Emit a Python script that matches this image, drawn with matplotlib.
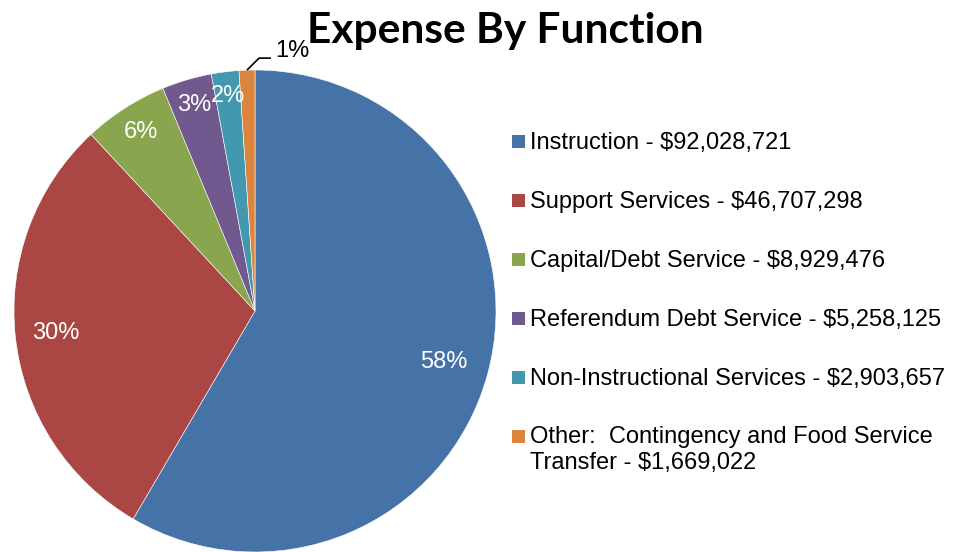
import matplotlib
matplotlib.use("Agg")
import matplotlib.pyplot as plt
import numpy as np
from matplotlib.patches import Rectangle

# Expense categories and amounts (USD)
categories = [
    "Instruction",
    "Support Services",
    "Capital/Debt Service",
    "Referendum Debt Service",
    "Non-Instructional Services",
    "Other:  Contingency and Food Service\nTransfer",
]
amounts = [92028721, 46707298, 8929476, 5258125, 2903657, 1669022]
colors = ["#4572A7", "#AA4643", "#89A54E", "#71588F", "#4198AF", "#DB843D"]

W, H = 954, 552
fig = plt.figure(figsize=(W / 100, H / 100), dpi=100)
ax = fig.add_axes([0, 0, 1, 1])

cx, cy, R = 255, H - 311, 241
wedges, _ = ax.pie(amounts, colors=colors, startangle=90, counterclock=False,
                   center=(cx, cy), radius=R,
                   wedgeprops=dict(edgecolor="white", linewidth=0.4))
ax.set_xlim(0, W)
ax.set_ylim(0, H)
ax.set_aspect("equal")
ax.axis("off")

plt.rcParams["font.family"] = ["Liberation Sans", "DejaVu Sans"]

total = sum(amounts)
pcts = [a / total * 100 for a in amounts]
label_dist = [0.81, 0.83, 0.88, 0.89, 0.90]
for i, w in enumerate(wedges):
    mid = np.deg2rad((w.theta1 + w.theta2) / 2)
    if i < len(label_dist):
        d = label_dist[i] * R
        ax.text(cx + d * np.cos(mid), cy + d * np.sin(mid), f"{pcts[i]:.0f}%",
                color="white", fontsize=17, ha="center", va="center",
                family="Liberation Sans")
    else:
        # small slice: label outside with a leader line
        ex, ey = cx + R * np.cos(mid), cy + R * np.sin(mid)
        ax.plot([ex, ex + 12, ex + 24], [ey, ey + 12, ey + 12],
                color="black", lw=1.2, solid_capstyle="butt")
        ax.text(ex + 28, ey + 19, f"{pcts[i]:.0f}%", color="black",
                fontsize=17, ha="left", va="center", family="Liberation Sans")

# Title
ax.text(505, H - 31, "Expense By Function", fontsize=30.5, fontweight="bold",
        family="Lato", ha="center", va="center")

# Legend
ly0, lstep = H - 141, 59
for i, (name, amt, c) in enumerate(zip(categories, amounts, colors)):
    y = ly0 - i * lstep
    ax.add_patch(Rectangle((512, y - 6.5), 13, 13, facecolor=c, edgecolor="none"))
    lines = name.split("\n")
    lines[-1] = f"{lines[-1]} - ${amt:,}"
    for j, ln in enumerate(lines):
        ax.text(530, y - 1.5 - j * 26, ln, fontsize=17, ha="left", va="center",
                family="Liberation Sans")

fig.savefig("out.png", dpi=100)
